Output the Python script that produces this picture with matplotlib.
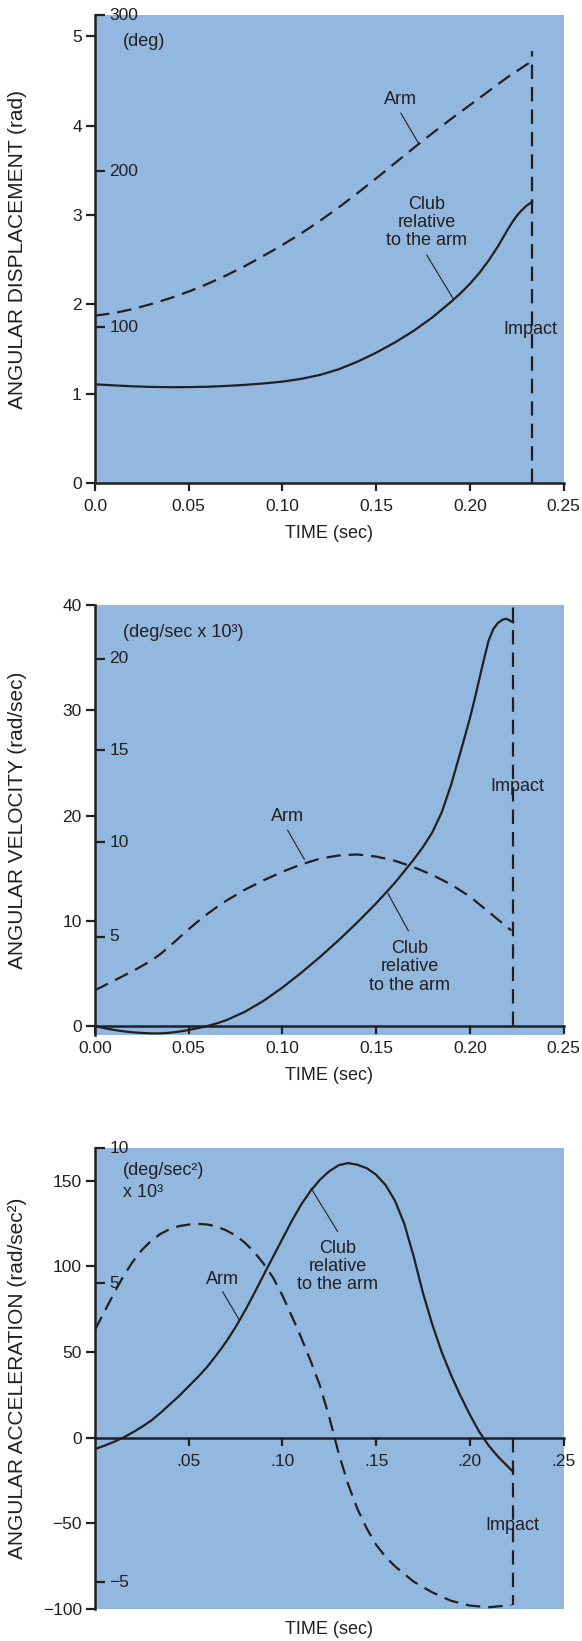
import numpy as np
import matplotlib
matplotlib.use("Agg")
import matplotlib.pyplot as plt

plt.rcParams['font.family'] = ['Liberation Sans', 'DejaVu Sans']

INK = '#231f20'
BLUE = '#93b8df'

# ---------------- Panel 1: angular displacement (rad) ----------------
t_arm_disp = [0, 0.01, 0.02, 0.03, 0.04, 0.05, 0.06, 0.07, 0.08, 0.09, 0.10,
              0.11, 0.12, 0.13, 0.14, 0.15, 0.16, 0.17, 0.18, 0.19, 0.20,
              0.21, 0.22, 0.2333]
arm_disp = [1.875, 1.903, 1.948, 2.005, 2.07, 2.145, 2.23, 2.325, 2.43, 2.545,
            2.665, 2.795, 2.935, 3.085, 3.245, 3.41, 3.58, 3.75, 3.915, 4.075,
            4.23, 4.385, 4.54, 4.725]
t_club_disp = [0, 0.01, 0.02, 0.03, 0.04, 0.05, 0.06, 0.07, 0.08, 0.09, 0.10,
               0.11, 0.12, 0.13, 0.14, 0.15, 0.16, 0.17, 0.18, 0.19, 0.195,
               0.20, 0.205, 0.21, 0.215, 0.2175, 0.22, 0.2225, 0.225, 0.2275,
               0.23, 0.2333]
club_disp = [1.107, 1.095, 1.085, 1.078, 1.075, 1.076, 1.08, 1.089, 1.101, 1.117,
             1.137, 1.168, 1.212, 1.275, 1.36, 1.46, 1.575, 1.705, 1.855, 2.03,
             2.125, 2.23, 2.35, 2.49, 2.65, 2.74, 2.83, 2.915, 2.99, 3.05,
             3.10, 3.15]
impact_t1 = 0.2333
impact_top1 = 4.83
disp_ticks = [0, 1, 2, 3, 4, 5]
disp_xticks = [0, 0.05, 0.10, 0.15, 0.20, 0.25]
disp_xlabels = ['0.0', '0.05', '0.10', '0.15', '0.20', '0.25']
deg_labels = ['300', '200', '100']
deg_pos = [5.236, 3.491, 1.745]

# ---------------- Panel 2: angular velocity (rad/sec) ----------------
t_arm_vel = [0, 0.01, 0.02, 0.03, 0.035, 0.04, 0.045, 0.05, 0.055, 0.06, 0.065,
             0.07, 0.08, 0.09, 0.10, 0.11, 0.12, 0.13, 0.14, 0.15, 0.16, 0.17,
             0.18, 0.19, 0.20, 0.21, 0.2222]
arm_vel = [3.4, 4.3, 5.2, 6.2, 6.85, 7.6, 8.4, 9.2, 9.95, 10.65, 11.3,
           11.9, 12.95, 13.85, 14.65, 15.35, 15.9, 16.2, 16.3, 16.1, 15.7, 15.1,
           14.35, 13.45, 12.3, 10.85, 9.07]
t_club_vel = [0, 0.005, 0.01, 0.015, 0.02, 0.025, 0.03, 0.035, 0.04, 0.045,
              0.05, 0.055, 0.06, 0.065, 0.07, 0.08, 0.09, 0.10, 0.11, 0.12,
              0.13, 0.14, 0.15, 0.16, 0.17, 0.175, 0.18, 0.185, 0.19, 0.195,
              0.20, 0.2025, 0.205, 0.2075, 0.21, 0.2125, 0.215, 0.2175, 0.2195,
              0.2231]
club_vel = [0, -0.2, -0.37, -0.5, -0.6, -0.66, -0.7, -0.7, -0.64, -0.53,
            -0.38, -0.2, 0, 0.25, 0.55, 1.35, 2.4, 3.65, 5.05, 6.55,
            8.15, 9.85, 11.65, 13.6, 15.8, 17.0, 18.4, 20.3, 22.9, 26.0,
            29.2, 31.0, 32.9, 34.8, 36.6, 37.7, 38.3, 38.6, 38.7,
            38.35]
impact_t2 = 0.2231
impact_top2 = 40
vel_ticks = [0, 10, 20, 30, 40]
vel_xticks = [0, 0.05, 0.10, 0.15, 0.20, 0.25]
vel_xlabels = ['0.00', '0.05', '0.10', '0.15', '0.20', '0.25']
degs_labels = ['20', '15', '10', '5']
degs_pos = [34.9, 26.2, 17.45, 8.5]

# ---------------- Panel 3: angular acceleration (rad/sec^2) ----------------
t_arm_acc = [0, 0.005, 0.01, 0.015, 0.02, 0.025, 0.03, 0.035, 0.04, 0.045,
             0.05, 0.055, 0.06, 0.065, 0.07, 0.075, 0.08, 0.085, 0.09, 0.095,
             0.10, 0.105, 0.11, 0.115, 0.12, 0.125, 0.13, 0.135, 0.14, 0.145,
             0.15, 0.155, 0.16, 0.17, 0.18, 0.19, 0.20, 0.21, 0.2222]
arm_acc = [63, 73.5, 84, 94, 102.5, 109.5, 115, 119, 121.8, 123.5,
           124.4, 124.8, 124.4, 123.2, 121, 118, 113.8, 108.3, 101.5, 93.5,
           83, 71, 58.5, 45, 30.5, 12, -9, -27, -41.5, -53,
           -62.5, -69.5, -75, -84, -90.3, -95.2, -98, -99, -97.7]
t_club_acc = [0, 0.005, 0.01, 0.015, 0.02, 0.025, 0.03, 0.035, 0.04, 0.045,
              0.05, 0.055, 0.06, 0.065, 0.07, 0.075, 0.08, 0.085, 0.09, 0.095,
              0.10, 0.105, 0.11, 0.115, 0.12, 0.125, 0.13, 0.135, 0.14, 0.145,
              0.15, 0.155, 0.16, 0.165, 0.17, 0.175, 0.18, 0.185, 0.19, 0.195,
              0.20, 0.205, 0.21, 0.215, 0.2231]
club_acc = [-6.6, -4.7, -2.5, 0, 3, 6.3, 10, 14.5, 19.5, 24.5,
            30, 35.5, 41.5, 48.5, 56, 64.5, 74, 84.3, 95, 105.5,
            116, 126.5, 136, 144, 150.5, 155.5, 159, 160.3, 159.3, 157.3,
            153.5, 147.5, 138.5, 125, 106, 84.5, 66, 50, 36.5, 24.5,
            13.5, 3.5, -4.5, -11, -19.9]
impact_t3 = 0.2231
impact_bot3 = -97.7
acc_ticks = [-100, -50, 0, 50, 100, 150]
acc_tlabels = ['\u2212100', '\u221250', '0', '50', '100', '150']
acc_xticks = [0.05, 0.10, 0.15, 0.20, 0.25]
acc_xlabels = ['.05', '.10', '.15', '.20', '.25']
degss_labels = ['10', '5', '\u22125']
degss_pos = [168.9, 90, -84.5]

# ---------------- Figure ----------------
W, H = 582, 1641
fig = plt.figure(figsize=(W / 100, H / 100), dpi=100)


def px_axes(top, bottom, left=95, right=563.5):
    return [left / W, 1 - bottom / H, (right - left) / W, (bottom - top) / H]


ax1 = fig.add_axes(px_axes(15, 483.3))
ax2 = fig.add_axes(px_axes(605, 1035))
ax3 = fig.add_axes(px_axes(1148.3, 1609))

LW = 1.6
DASH = (6.5, 3.6)
TFS = 12.5
AFS = 13


def style(ax, ylim):
    ax.set_facecolor(BLUE)
    ax.set_xlim(0, 0.25)
    ax.set_ylim(*ylim)
    ax.spines['top'].set_visible(False)
    ax.spines['right'].set_visible(False)
    for s in ('left', 'bottom'):
        ax.spines[s].set_linewidth(1.8)
        ax.spines[s].set_color(INK)
    ax.tick_params(axis='both', colors=INK, labelcolor=INK, labelsize=TFS,
                   width=1.6, direction='out')
    ax.tick_params(axis='y', length=6.5, pad=3)
    ax.tick_params(axis='x', length=6, pad=5)


def secondary(ax, labels, pos):
    tr = ax.get_yaxis_transform()
    for lab, p in zip(labels, pos):
        ax.plot([0, 0.022], [p, p], transform=tr, color=INK, lw=1.6,
                solid_capstyle='butt', clip_on=False)
        ax.text(0.031, p, lab, transform=tr, ha='left', va='center',
                fontsize=TFS, color=INK, clip_on=False)


def leader(ax, xs, ys):
    ax.plot(xs, ys, color=INK, lw=0.8)


def curve(ax, t, v, dashed=False):
    if dashed:
        ax.plot(t, v, color=INK, lw=LW, dashes=DASH, solid_joinstyle='round')
    else:
        ax.plot(t, v, color=INK, lw=LW, solid_joinstyle='round')


# Panel 1
style(ax1, (0, 5.238))
ax1.set_yticks(disp_ticks)
ax1.set_xticks(disp_xticks, disp_xlabels)
curve(ax1, t_arm_disp, arm_disp, dashed=True)
curve(ax1, t_club_disp, club_disp)
ax1.plot([impact_t1, impact_t1], [0, impact_top1], color=INK, lw=LW, dashes=DASH)
secondary(ax1, deg_labels, deg_pos)
ax1.text(0.0261, 4.94, '(deg)', ha='center', va='center', fontsize=AFS, color=INK)
ax1.text(0.1632, 4.29, 'Arm', ha='center', va='center', fontsize=AFS, color=INK)
leader(ax1, [0.1632, 0.1727], [4.14, 3.80])
ax1.text(0.177, 2.915, 'Club\nrelative\nto the arm', ha='center', va='center',
         fontsize=AFS, color=INK, linespacing=1.1)
leader(ax1, [0.177, 0.191], [2.554, 2.07])
ax1.text(0.2325, 1.716, 'Impact', ha='center', va='center', fontsize=AFS, color=INK)

# Panel 2
style(ax2, (-0.855, 40))
ax2.spines['bottom'].set_position(('data', 0))
ax2.set_yticks(vel_ticks)
ax2.set_xticks(vel_xticks, vel_xlabels)
curve(ax2, t_arm_vel, arm_vel, dashed=True)
curve(ax2, t_club_vel, club_vel)
ax2.plot([impact_t2, impact_t2], [0, impact_top2], color=INK, lw=LW, dashes=DASH)
secondary(ax2, degs_labels, degs_pos)
ax2.text(0.0147, 37.4, '(deg/sec x 10\u00b3)', ha='left', va='center', fontsize=AFS, color=INK)
ax2.text(0.1028, 19.9, 'Arm', ha='center', va='center', fontsize=AFS, color=INK)
leader(ax2, [0.1028, 0.1117], [18.6, 15.84])
ax2.text(0.1678, 5.63, 'Club\nrelative\nto the arm', ha='center', va='center',
         fontsize=AFS, color=INK, linespacing=1.1)
leader(ax2, [0.1563, 0.1672], [12.6, 9.05])
ax2.text(0.2256, 22.8, 'Impact', ha='center', va='center', fontsize=AFS, color=INK)

# Panel 3
style(ax3, (-100, 168.9))
ax3.spines['bottom'].set_position(('data', 0))
ax3.set_yticks(acc_ticks, acc_tlabels)
ax3.set_xticks(acc_xticks, acc_xlabels)
ax3.tick_params(axis='x', pad=6)
curve(ax3, t_arm_acc, arm_acc, dashed=True)
curve(ax3, t_club_acc, club_acc)
ax3.plot([impact_t3, impact_t3], [0, impact_bot3], color=INK, lw=LW, dashes=DASH)
secondary(ax3, degss_labels, degss_pos)
ax3.text(0.0151, 156.2, '(deg/sec\u00b2)', ha='left', va='center', fontsize=AFS, color=INK)
ax3.text(0.0151, 143, 'x 10\u00b3', ha='left', va='center', fontsize=AFS, color=INK)
ax3.text(0.0681, 92.5, 'Arm', ha='center', va='center', fontsize=AFS, color=INK)
leader(ax3, [0.0681, 0.077], [85.2, 68.7])
ax3.text(0.1295, 99.8, 'Club\nrelative\nto the arm', ha='center', va='center',
         fontsize=AFS, color=INK, linespacing=1.1)
leader(ax3, [0.1295, 0.1153], [120.3, 145.5])
ax3.text(0.2226, -51, 'Impact', ha='center', va='center', fontsize=AFS, color=INK)

# Axis titles
cx = (95 + 563.5) / 2 / W
for yc in (533, 1075, 1630):
    fig.text(cx, 1 - yc / H, 'TIME (sec)', ha='center', va='center', fontsize=AFS, color=INK)
ylab = [('ANGULAR DISPLACEMENT (rad)', (15 + 483.3) / 2),
        ('ANGULAR VELOCITY (rad/sec)', (605 + 1035) / 2),
        ('ANGULAR ACCELERATION (rad/sec\u00b2)', (1148.3 + 1609) / 2)]
for txt, yc in ylab:
    fig.text(17.5 / W, 1 - yc / H, txt, rotation=90, ha='center', va='center',
             fontsize=15, color=INK)

fig.savefig('out.png', dpi=100)
